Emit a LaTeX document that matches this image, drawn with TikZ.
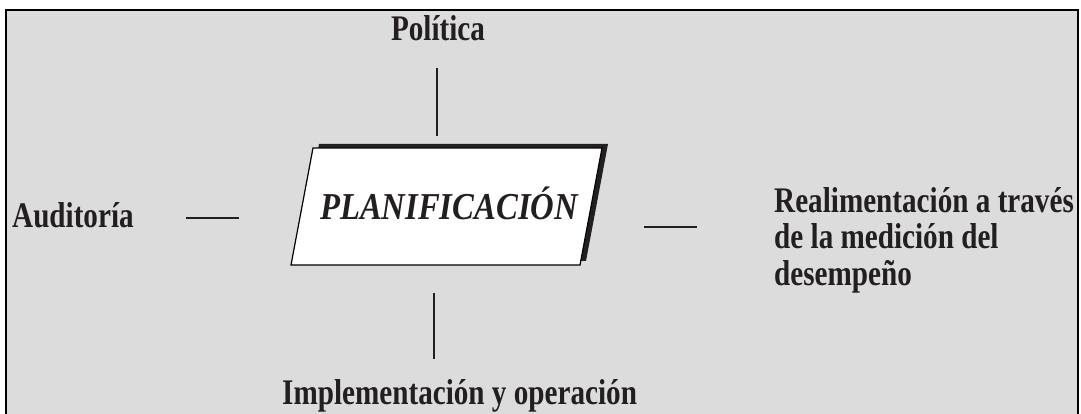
\documentclass[tikz,border=0pt]{standalone}
\usepackage{fontspec}
\setmainfont{Liberation Serif}[FakeStretch=0.81]
\newfontfamily\planfont{Liberation Serif}[FakeStretch=0.86]
\usepackage{xcolor}
\usetikzlibrary{positioning}
\definecolor{panel}{HTML}{DCDCDC}
\definecolor{ink}{HTML}{231F20}

\begin{document}
\begin{tikzpicture} [x = 1pt, y = 1pt, inner sep = 0pt,
        lbl/.style = {font = \fontsize{36}{36.5}\selectfont\bfseries, text = ink},
        link/.style = {draw = ink, line width = 1.8pt}]

        \useasboundingbox (0,0) rectangle (1081,414);
        \fill [panel] (6,404) rectangle (1078,-10);
        \draw [line width = 2pt] (6,-10) -- (6,404) -- (1078,404) -- (1078,-10);

        % central box with its shadow
        \fill [ink] (297,153) -- (319,270) -- (608,270) -- (586,153) -- cycle;
        \draw [fill = white, line width = 1.2pt] (291,149) -- (313,266) --
            (602,266) -- (580,149) -- cycle;
        \node (plan) [anchor = base, text = ink,
            font = \fontsize{38}{40}\planfont\bfseries\itshape] at (449,194)
            {PLANIFICACIÓN};

        \node (pol) [lbl, anchor = base] at (438,373) {Política};
        \node (aud) [lbl, anchor = base west] at (12,186) {Auditoría};
        \node (impl) [lbl, anchor = base west] at (282,9)
            {Implementación y operación};
        \node (real) [lbl, anchor = west, align = left] at (774,174)
            {Realimentación a través\\de la medición del\\desempeño};

        \coordinate (p1) at (437,346); \coordinate (p2) at (437,278);
        \coordinate (i1) at (434,121); \coordinate (i2) at (434,55);
        \coordinate (a1) at (186,196); \coordinate (a2) at (239,196);
        \coordinate (r1) at (644,187); \coordinate (r2) at (697,187);

        \path [link]
            (p1) edge (p2) (i1) edge (i2) (a1) edge (a2) (r1) edge (r2);
    \end{tikzpicture}
\end{document}
